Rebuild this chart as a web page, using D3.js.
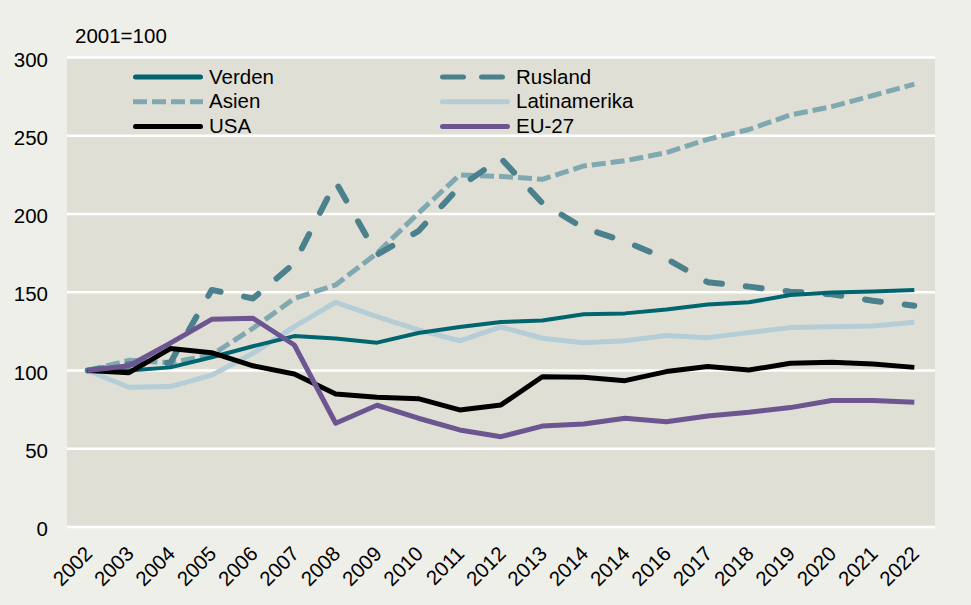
<!DOCTYPE html>
<html>
<head>
<meta charset="utf-8">
<script src="https://cdn.jsdelivr.net/npm/d3@7"></script>
<style>
  body { margin: 0; background: #efefe9; }
  svg { display: block; font-family: "Liberation Sans", Arial, sans-serif; }
</style>
</head>
<body>
<svg id="chart" width="971" height="605"></svg>
<script>
// år (2014 står to gange i originalen)
var years = ["2002","2003","2004","2005","2006","2007","2008","2009","2010","2011","2012",
  "2013","2014","2014","2016","2017","2018","2019","2020","2021","2022"];

var verden = [100,100,102,108.5,115.5,122,120.5,117.8,124,127.8,131,132,136,136.5,139,142.2,143.6,148.3,149.8,150.5,151.5];
var rusland = [100,104,105,151.5,146,168.5,220.5,174,189,217.5,235.5,207,191,182.5,171.5,156.4,153.6,150.4,148.7,144.6,141.4];
var asien = [100,106.5,105,110,127,146,154.7,175,200.5,225,224,222.2,230.7,234,239.2,247.7,254,263.3,268.6,275.7,283];
var latin = [100,89.3,89.7,97,111,128,143.6,134.4,126,119,127.8,120.6,117.8,119,122.3,121,124.2,127.4,128,128.5,130.8];
var usa = [100,98.6,114,111.4,103,97.8,85,82.9,82,74.8,78,96,95.7,93.5,99.3,102.5,100.3,104.6,105.2,104.2,102];
var eu27 = [100,103,117.5,132.7,133.4,116.3,66.3,77.8,69.5,62,57.7,64.5,65.8,69.5,67.3,70.9,73.3,76.3,80.8,80.8,79.7];

var yTicks = [0,50,100,150,200,250,300];

var series = [
  {name: "Verden", values: verden, color: "#00656f", width: 4, dash: null, cap: "round"},
  {name: "Rusland", values: rusland, color: "#4b808d", width: 6, dash: "16,24", legendDash: "21,18", cap: "round"},
  {name: "Asien", values: asien, color: "#7fa8b1", width: 5, dash: "14,5", cap: "butt"},
  {name: "Latinamerika", values: latin, color: "#b5cdd7", width: 5, dash: null, cap: "round"},
  {name: "USA", values: usa, color: "#000000", width: 5, dash: null, cap: "round"},
  {name: "EU-27", values: eu27, color: "#6c5590", width: 5, dash: null, cap: "round"}
];

var svg = d3.select("#chart");
var plotL = 67, plotR = 935, plotT = 57.5, plotB = 527;
var fs = "20.5px";

var x = d3.scalePoint()
  .domain(d3.range(years.length))
  .range([plotL, plotR])
  .padding(0.5);

var y = d3.scaleLinear()
  .domain([0, 300])
  .range([plotB, plotT]);

// plot-baggrund
svg.append("rect")
  .attr("x", plotL).attr("y", plotT)
  .attr("width", plotR - plotL).attr("height", plotB - plotT)
  .attr("fill", "#e0dfd5");

// gitterlinjer
svg.selectAll(".grid")
  .data(yTicks)
  .enter().append("line")
  .attr("class", "grid")
  .attr("x1", plotL).attr("x2", plotR)
  .attr("y1", function(d) { return y(d); })
  .attr("y2", function(d) { return y(d); })
  .attr("stroke", "#ffffff")
  .attr("stroke-width", 2.5);

// y-akse
var yAxis = svg.append("g")
  .attr("transform", "translate(" + (plotL - 19) + ",0)")
  .call(d3.axisLeft(y).tickValues(yTicks).tickSize(0).tickPadding(0));
yAxis.select(".domain").remove();
yAxis.selectAll("text")
  .attr("font-size", fs)
  .attr("font-family", "Liberation Sans, Arial, sans-serif")
  .attr("fill", "#000")
  .attr("dy", "0.42em");

// x-akse med roterede labels
svg.append("g").selectAll("text")
  .data(years)
  .enter().append("text")
  .attr("transform", function(d, i) { return "translate(" + (x(i) + 6) + ",555) rotate(-45)"; })
  .attr("text-anchor", "end")
  .attr("font-size", fs)
  .text(function(d) { return d; });

svg.append("text")
  .attr("x", 75).attr("y", 43)
  .attr("font-size", fs)
  .text("2001=100");

var line = d3.line()
  .x(function(d, i) { return x(i); })
  .y(function(d) { return y(d); });

var drawOrder = ["Latinamerika", "Asien", "Rusland", "Verden", "USA", "EU-27"];
drawOrder.forEach(function(n) {
  var s = series.find(function(d) { return d.name === n; });
  svg.append("path")
    .datum(s.values)
    .attr("d", line)
    .attr("fill", "none")
    .attr("stroke", s.color)
    .attr("stroke-width", s.width)
    .attr("stroke-linejoin", "round")
    .attr("stroke-linecap", s.dash ? s.cap : "butt")
    .attr("stroke-dasharray", s.dash);
});

// legende, to kolonner
var legend = svg.append("g");
series.forEach(function(s, i) {
  var col = i % 2, row = Math.floor(i / 2);
  var lx = col === 0 ? 133 : 440;
  var ly = 77 + row * 24.7;
  var cap = s.cap === "round" ? 2.5 : 0;
  legend.append("line")
    .attr("x1", lx + cap).attr("x2", lx + 70 - cap)
    .attr("y1", ly).attr("y2", ly)
    .attr("stroke", s.color)
    .attr("stroke-width", 5)
    .attr("stroke-linecap", s.cap)
    .attr("stroke-dasharray", s.legendDash || s.dash);
  legend.append("text")
    .attr("x", lx + 76).attr("y", ly)
    .attr("dy", "0.33em")
    .attr("font-size", fs)
    .text(s.name);
});
</script>
</body>
</html>
